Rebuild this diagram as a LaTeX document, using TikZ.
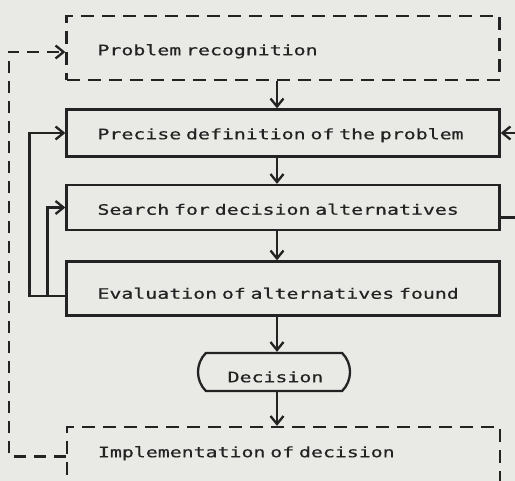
\documentclass[tikz,border=0pt]{standalone}
\usepackage{fontspec}
\newfontfamily\plotfont[FakeStretch=1.38,FakeBold=0.6]{DejaVu Sans Mono}
\newcommand\plotsize{\plotfont\fontsize{14.4}{16}\selectfont}
\usetikzlibrary{arrows.meta,shapes.misc,calc}
\definecolor{paper}{RGB}{233,233,229}
\definecolor{ink}{RGB}{35,35,35}
\begin{document}
\begin{tikzpicture}[x=1pt,y=-1pt,
  every node/.style={font=\plotsize, text=ink},
  box/.style={draw=ink, line width=2.3pt, rectangle, inner xsep=31pt, inner ysep=0pt,
              text width=371pt, align=left, text height=14.5pt, text depth=0pt},
  dbox/.style={box, dash pattern=on 13pt off 8pt},
  decbox/.style={draw=ink, line width=2.3pt, rounded rectangle, rounded rectangle arc length=90,
                 minimum width=152pt, minimum height=38pt, inner sep=0pt,
                 text height=20.5pt, text depth=0pt},
  arr/.style={draw=ink, line width=2.3pt, -{Straight Barb[length=8pt,width=13pt,line width=2.3pt]}},
  darr/.style={arr, dash pattern=on 12pt off 8pt}
]
\useasboundingbox (0,0) rectangle (515,481);
\fill[paper] (0,0) rectangle (515,481);
\clip (0,0) rectangle (515,481);

\node[dbox, minimum height=64pt] (prob) at (283,48) {Problem recognition};
\node[box, minimum height=47pt, text height=12.5pt] (prec) at (283,133) {Precise definition of the problem};
\node[box, minimum height=45pt] (search) at (283,207.5) {Search for decision alternatives};
\node[box, minimum height=54pt, text height=20.5pt] (eval) at (283,288.5) {Evaluation of alternatives found};
\node[decbox] (dec) at (274,372) {\hspace{3pt}Decision};
\node[dbox, minimum height=65pt, text height=0pt, text depth=4.5pt] (impl) at (283.5,459.5) {Implementation of decision};

\coordinate (ax) at (277,0);
\draw[arr] (prob.south -| ax) -- (prec.north -| ax);
\draw[arr] (prec.south -| ax) -- (search.north -| ax);
\draw[arr] (search.south -| ax) -- (eval.north -| ax);
\draw[arr] (eval.south -| ax) -- (dec.north -| ax);
\draw[arr] (dec.south -| ax) -- (impl.north -| ax);

% feedback from evaluation
\coordinate (lj) at ($(eval.west)+(0,7.5)$);
\draw[arr] (lj) -- ++(-36,0) |- (prec.west);
\draw[arr] (lj) -- ++(-18,0) |- (search.west);

% feedback on the right
\draw[arr] ($(search.east)+(0,10)$) -- ++(30,0) |- (prec.east);

% dashed feedback from implementation
\draw[darr] ($(impl.west)+(0,-3)$) -- ++(-57,0) |- ($(prob.west)+(0,4)$);
\end{tikzpicture}
\end{document}
